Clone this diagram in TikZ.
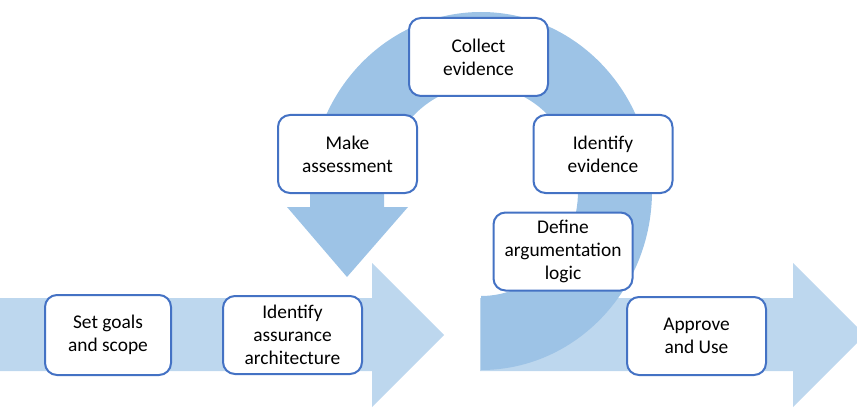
\documentclass[tikz,border=0pt]{standalone}
\usepackage{fontspec}
\setmainfont{Carlito}
\definecolor{ringblue}{HTML}{9DC3E6}
\definecolor{arrowblue}{HTML}{BDD7EE}
\definecolor{boxblue}{HTML}{4472C4}
\begin{document}
\begin{tikzpicture}[x=1pt,y=-1pt,
  stepbox/.style={draw=boxblue, line width=2pt, fill=white, rounded corners=12pt,
    minimum width=139pt, minimum height=78pt, align=center, inner sep=0pt,
    font=\fontsize{19.4}{23.3}\selectfont},
  bigarrow/.style={fill=arrowblue, draw=none},
  ringarrow/.style={fill=ringblue, draw=none}]
\useasboundingbox (0,0) rectangle (857,409);
\clip (0,0) rectangle (857,409);
% straight arrows
\path[bigarrow] (0,298) -- (372,298) -- (372,263) -- (444,335) -- (372,407) -- (372,371) -- (0,371) -- cycle;
\path[bigarrow] (480,298) -- (793,298) -- (793,263) -- (865,335) -- (793,407) -- (793,371) -- (480,371) -- cycle;
% circular arrow
\path[ringarrow] (481,370) arc[start angle=90, end angle=-180, x radius=171, y radius=179]
  -- (310,207) -- (287,207) -- (347,277) -- (408,207) -- (384,207) -- (384,191)
  arc[start angle=-180, end angle=90, x radius=97, y radius=105] -- cycle;
% boxes
\node[stepbox, minimum width=126pt, minimum height=80pt] (goals) at (108,335) {Set goals\\and scope};
\node[stepbox] (arch) at (292.5,335) {Identify\\assurance\\architecture};
\node[stepbox] (assess) at (347.5,154) {Make\\assessment};
\node[stepbox] (collect) at (478.5,57) {Collect\\evidence};
\node[stepbox] (ident) at (603,154) {Identify\\evidence};
\node[stepbox] (define) at (563,251.5) {Define\\argumentation\\logic};
\node[stepbox] (approve) at (696.5,336) {Approve\\and Use};
\end{tikzpicture}
\end{document}
